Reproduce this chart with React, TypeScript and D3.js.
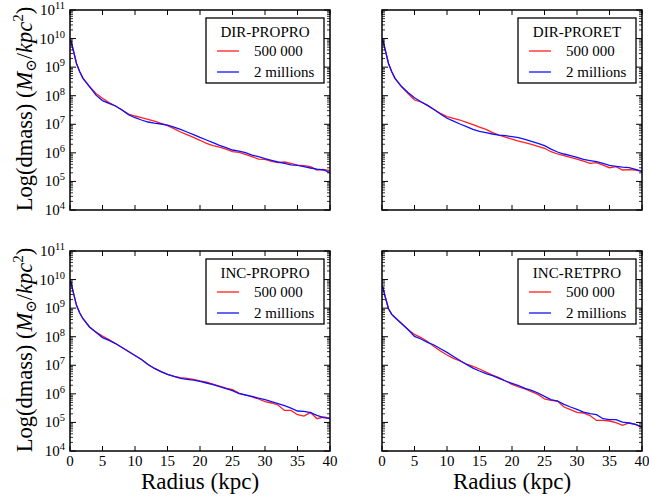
import React from 'react';
import * as d3 from 'd3';

// Radius (kpc)
const radius = [0.1, 0.5, 1, 1.5, 2, 3, 4, 5, 6, 7, 8, 9, 10, 11, 12, 13, 14, 15, 16, 17, 18, 19, 20, 21, 22, 23, 24, 25, 26, 27, 28, 29, 30, 31, 32, 33, 34, 35, 36, 37, 38, 39, 40];

// log10(dmass) values
const dirProPro500k = [9.95, 9.60, 9.13, 8.84, 8.61, 8.32, 8.08, 7.91, 7.76, 7.64, 7.50, 7.36, 7.29, 7.23, 7.17, 7.11, 7.03, 6.95, 6.85, 6.73, 6.64, 6.54, 6.44, 6.33, 6.25, 6.20, 6.13, 6.04, 6.02, 5.95, 5.87, 5.78, 5.77, 5.70, 5.66, 5.68, 5.63, 5.57, 5.55, 5.52, 5.40, 5.42, 5.38];
const dirProPro2M = [9.95, 9.60, 9.13, 8.84, 8.61, 8.32, 8.02, 7.83, 7.73, 7.64, 7.50, 7.34, 7.23, 7.15, 7.08, 7.04, 7.01, 6.97, 6.90, 6.82, 6.73, 6.64, 6.54, 6.45, 6.36, 6.26, 6.18, 6.10, 6.06, 6.01, 5.92, 5.87, 5.80, 5.74, 5.68, 5.63, 5.58, 5.56, 5.52, 5.47, 5.43, 5.40, 5.31];

const dirProRet500k = [9.97, 9.60, 9.13, 8.84, 8.61, 8.32, 8.08, 7.85, 7.78, 7.66, 7.52, 7.38, 7.27, 7.21, 7.15, 7.07, 6.99, 6.90, 6.82, 6.71, 6.62, 6.55, 6.48, 6.41, 6.36, 6.30, 6.23, 6.16, 6.04, 5.96, 5.90, 5.84, 5.78, 5.71, 5.63, 5.66, 5.57, 5.48, 5.52, 5.40, 5.41, 5.40, 5.35];
const dirProRet2M = [9.97, 9.60, 9.13, 8.84, 8.61, 8.32, 8.11, 7.93, 7.79, 7.66, 7.52, 7.36, 7.21, 7.11, 7.01, 6.92, 6.82, 6.75, 6.71, 6.66, 6.62, 6.60, 6.57, 6.53, 6.47, 6.40, 6.33, 6.25, 6.13, 6.03, 5.96, 5.90, 5.84, 5.77, 5.73, 5.69, 5.63, 5.56, 5.53, 5.50, 5.48, 5.42, 5.35];

const incProPro500k = [9.95, 9.56, 9.10, 8.83, 8.63, 8.34, 8.16, 8.02, 7.90, 7.76, 7.62, 7.48, 7.34, 7.20, 7.03, 6.89, 6.78, 6.68, 6.61, 6.57, 6.54, 6.51, 6.45, 6.41, 6.34, 6.27, 6.20, 6.15, 6.03, 5.96, 5.89, 5.82, 5.73, 5.68, 5.61, 5.42, 5.42, 5.27, 5.22, 5.35, 5.13, 5.19, 5.15];
const incProPro2M = [9.95, 9.56, 9.10, 8.83, 8.63, 8.34, 8.16, 7.97, 7.87, 7.76, 7.62, 7.48, 7.34, 7.20, 7.03, 6.89, 6.78, 6.68, 6.61, 6.54, 6.51, 6.48, 6.44, 6.38, 6.32, 6.25, 6.18, 6.11, 6.01, 5.96, 5.91, 5.85, 5.80, 5.73, 5.66, 5.59, 5.50, 5.40, 5.39, 5.34, 5.25, 5.17, 5.13];

const incRetPro500k = [9.76, 9.39, 8.98, 8.78, 8.67, 8.46, 8.25, 8.08, 7.97, 7.83, 7.66, 7.50, 7.36, 7.24, 7.15, 7.04, 6.96, 6.87, 6.76, 6.66, 6.57, 6.45, 6.33, 6.24, 6.17, 6.08, 5.98, 5.82, 5.77, 5.75, 5.54, 5.45, 5.35, 5.33, 5.24, 5.07, 5.07, 5.05, 4.99, 4.90, 4.98, 4.93, 4.82];
const incRetPro2M = [9.76, 9.39, 8.98, 8.78, 8.67, 8.46, 8.25, 8.01, 7.92, 7.80, 7.71, 7.58, 7.45, 7.31, 7.17, 7.03, 6.90, 6.80, 6.71, 6.64, 6.54, 6.45, 6.37, 6.29, 6.19, 6.12, 6.03, 5.91, 5.80, 5.75, 5.63, 5.54, 5.46, 5.36, 5.31, 5.27, 5.13, 5.10, 5.10, 5.01, 4.98, 4.93, 4.84];

const panelTitles = ['DIR-PROPRO', 'DIR-PRORET', 'INC-PROPRO', 'INC-RETPRO'];
const seriesLabels = ['500 000', '2 millions'];
const xTicks = [0, 5, 10, 15, 20, 25, 30, 35, 40];
const yExponents = [4, 5, 6, 7, 8, 9, 10, 11];

const FONT = "'Liberation Serif', 'DejaVu Serif', serif";
const W = 260;
const H = 200;

const panels = [
  { title: panelTitles[0], red: dirProPro500k, blue: dirProPro2M, left: 70, top: 10, showX: false, showY: true },
  { title: panelTitles[1], red: dirProRet500k, blue: dirProRet2M, left: 382, top: 10, showX: false, showY: false },
  { title: panelTitles[2], red: incProPro500k, blue: incProPro2M, left: 70, top: 251, showX: true, showY: true },
  { title: panelTitles[3], red: incRetPro500k, blue: incRetPro2M, left: 382, top: 251, showX: true, showY: false },
];

function Panel({ p }: { p: typeof panels[number] }) {
  const x = d3.scaleLinear().domain([0, 40]).range([p.left, p.left + W]);
  const y = d3.scaleLog().domain([1e4, 1e11]).range([p.top + H, p.top]);
  const line = d3
    .line<number>()
    .x((_, i) => x(radius[i]))
    .y((d) => y(Math.pow(10, d)));
  const right = p.left + W;
  const bottom = p.top + H;
  const minor: number[] = [];
  for (let e = 4; e < 11; e++) for (let k = 2; k <= 9; k++) minor.push(k * Math.pow(10, e));
  const lx = right - 124;
  const ly = p.top + 8;
  return (
    <g>
      <path d={line(p.red) || ''} fill="none" stroke="#ff2020" strokeWidth={1.3} />
      <path d={line(p.blue) || ''} fill="none" stroke="#1010ff" strokeWidth={1.3} />
      {xTicks.map((t) => (
        <g key={'xt' + t}>
          <line x1={x(t)} x2={x(t)} y1={bottom} y2={bottom - 5} stroke="#000" strokeWidth={1} />
          <line x1={x(t)} x2={x(t)} y1={p.top} y2={p.top + 5} stroke="#000" strokeWidth={1} />
          {p.showX && (
            <text x={x(t)} y={bottom + 15} textAnchor="middle" fontSize={15} fontFamily={FONT}>
              {t}
            </text>
          )}
        </g>
      ))}
      {yExponents.map((e) => (
        <g key={'yt' + e}>
          <line x1={p.left} x2={p.left + 6} y1={y(Math.pow(10, e))} y2={y(Math.pow(10, e))} stroke="#000" strokeWidth={1} />
          <line x1={right} x2={right - 6} y1={y(Math.pow(10, e))} y2={y(Math.pow(10, e))} stroke="#000" strokeWidth={1} />
          {p.showY && (
            <text x={p.left - 5} y={y(Math.pow(10, e)) + 5} textAnchor="end" fontSize={15} fontFamily={FONT}>
              10
              <tspan fontSize={10.5} dy={-6}>{e}</tspan>
            </text>
          )}
        </g>
      ))}
      {minor.map((v, i) => (
        <g key={'m' + i}>
          <line x1={p.left} x2={p.left + 3} y1={y(v)} y2={y(v)} stroke="#000" strokeWidth={0.8} />
          <line x1={right} x2={right - 3} y1={y(v)} y2={y(v)} stroke="#000" strokeWidth={0.8} />
        </g>
      ))}
      <rect x={p.left} y={p.top} width={W} height={H} fill="none" stroke="#000" strokeWidth={1.5} />
      <g>
        <rect x={lx} y={ly} width={118} height={65} fill="#fff" stroke="#000" strokeWidth={1.3} />
        <text x={lx + 59} y={ly + 19} textAnchor="middle" fontSize={15} fontFamily={FONT}>
          {p.title}
        </text>
        <line x1={lx + 11} x2={lx + 33} y1={ly + 33} y2={ly + 33} stroke="#ff2020" strokeWidth={1.3} />
        <text x={lx + 48} y={ly + 38} fontSize={15} fontFamily={FONT}>
          {seriesLabels[0]}
        </text>
        <line x1={lx + 11} x2={lx + 33} y1={ly + 54} y2={ly + 54} stroke="#1010ff" strokeWidth={1.3} />
        <text x={lx + 48} y={ly + 59} fontSize={15} fontFamily={FONT}>
          {seriesLabels[1]}
        </text>
      </g>
      {p.showX && (
        <text x={p.left + W / 2} y={bottom + 38} textAnchor="middle" fontSize={23} fontFamily={FONT}>
          Radius (kpc)
        </text>
      )}
      {p.showY && (
        <text
          transform={`translate(32, ${p.top + H / 2 - 1}) rotate(-90)`}
          textAnchor="middle"
          fontSize={22.5}
          fontFamily={FONT}
        >
          Log(dmass) (<tspan fontStyle="italic">M</tspan>
          <tspan fontSize={15} dy={4}>⊙</tspan>
          <tspan dy={-4}>/</tspan>
          <tspan fontStyle="italic">kpc</tspan>
          <tspan fontSize={15} dy={-9}>2</tspan>
          <tspan dy={9}>)</tspan>
        </text>
      )}
    </g>
  );
}

export default function App() {
  return (
    <svg
      width={649}
      height={501}
      style={{ position: 'absolute', left: 0, top: 0, background: '#fff' }}
    >
      <rect x={0} y={0} width={649} height={501} fill="#fff" />
      {panels.map((p) => (
        <Panel key={p.title} p={p} />
      ))}
    </svg>
  );
}
